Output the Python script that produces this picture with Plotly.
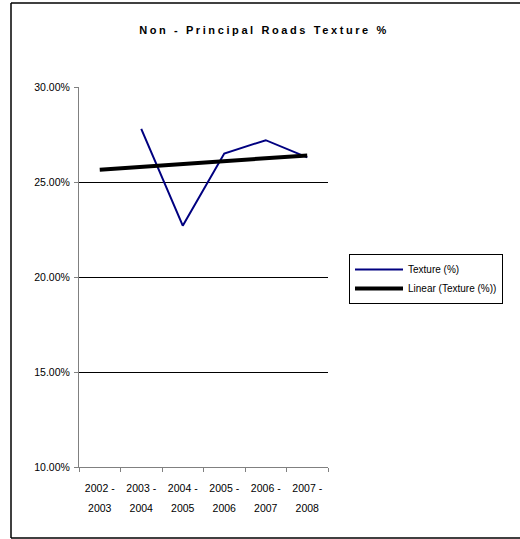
import numpy as np
import plotly.graph_objects as go

# ---- data ----
periods = ["2002 - 2003", "2003 - 2004", "2004 - 2005", "2005 - 2006", "2006 - 2007", "2007 - 2008"]
texture = [None, 0.278, 0.227, 0.265, 0.272, 0.263]
y_ticks = [0.10, 0.15, 0.20, 0.25, 0.30]
grid_vals = [0.15, 0.20, 0.25]

# Linear (Excel-style) trendline fitted on available points
idx = np.arange(1, len(periods) + 1)
mask = np.array([v is not None for v in texture])
yv = np.array([v for v in texture if v is not None], dtype=float)
slope, intercept = np.polyfit(idx[mask], yv, 1)
trend = list(slope * idx + intercept)

line1 = [p.split(" - ")[0] + " -" for p in periods]
line2 = [p.split(" - ")[1] for p in periods]

W, H = 520, 539
L, R, T, B = 79, 328, 87, 467
FONT = "Liberation Sans, Arial, sans-serif"

fig = go.Figure()
fig.add_trace(go.Scatter(
    x=periods, y=texture, mode="lines", name="Texture (%)",
    line=dict(color="#000080", width=2), connectgaps=False))
fig.add_trace(go.Scatter(
    x=periods, y=trend, mode="lines", name="Linear (Texture (%))",
    line=dict(color="#000000", width=4)))
fig.add_trace(go.Scatter(
    x=periods, y=[None] * len(periods), xaxis="x2", showlegend=False,
    hoverinfo="skip", mode="lines"))

fig.update_layout(
    width=W, height=H,
    margin=dict(l=L, r=W - R, t=T, b=H - B, pad=0),
    paper_bgcolor="white", plot_bgcolor="white",
    font=dict(family=FONT, size=10, color="#000000"),
    title=dict(
        text='<b><span style="letter-spacing:2.6px">Non - Principal Roads Texture %</span></b>',
        x=264 / W, xref="container", xanchor="center",
        y=1 - 30 / H, yref="container", yanchor="middle",
        font=dict(family=FONT, size=11, color="#000000")),
    xaxis=dict(
        type="category", categoryorder="array", categoryarray=periods,
        range=[-0.5, len(periods) - 0.5],
        tickmode="array", tickvals=periods, ticktext=line1,
        tickson="boundaries", ticks="outside", ticklen=4, tickcolor="#808080",
        showline=True, linecolor="#808080", linewidth=1,
        showgrid=False, zeroline=False,
        tickfont=dict(family=FONT, size=10.5, color="#000000"),
        ticklabelstandoff=11, fixedrange=True),
    xaxis2=dict(
        type="category", overlaying="x", matches="x", anchor="y", side="bottom",
        tickmode="array", tickvals=periods, ticktext=line2,
        ticks="", showline=False, showgrid=False, zeroline=False,
        tickfont=dict(family=FONT, size=10.5, color="#000000"),
        ticklabelstandoff=33, fixedrange=True),
    yaxis=dict(
        range=[0.10, 0.30], tickmode="array", tickvals=y_ticks,
        tickformat=".2%", ticks="outside", ticklen=4, tickcolor="#808080",
        showline=True, linecolor="#808080", linewidth=1,
        showgrid=False, zeroline=False,
        minor=dict(tickmode="array", tickvals=grid_vals, showgrid=True,
                   gridcolor="#000000", gridwidth=1, ticks=""),
        tickfont=dict(family=FONT, size=10.5, color="#000000"),
        ticklabelstandoff=2, fixedrange=True),
    legend=dict(
        x=(349 - L) / (R - L), xanchor="left",
        y=(B - 254) / (B - T), yanchor="top",
        bordercolor="#000000", borderwidth=1, bgcolor="white",
        font=dict(family=FONT, size=10, color="#000000"),
        itemwidth=48, tracegroupgap=0),
    showlegend=True,
)

# outer chart border: left, top and bottom edges (right edge lies off canvas)
px = lambda v: (v - L) / (R - L)
py = lambda v: (B - v) / (B - T)
border = dict(color="#000000", width=1.5)
for x0, y0, x1, y1 in [(11, 3, 11, 538), (11, 3, W + 10, 3), (11, 538, W + 10, 538)]:
    fig.add_shape(type="line", xref="paper", yref="paper",
                  x0=px(x0), y0=py(y0), x1=px(x1), y1=py(y1),
                  line=border, layer="below")

fig.write_html("out.html", config={"displayModeBar": False})
